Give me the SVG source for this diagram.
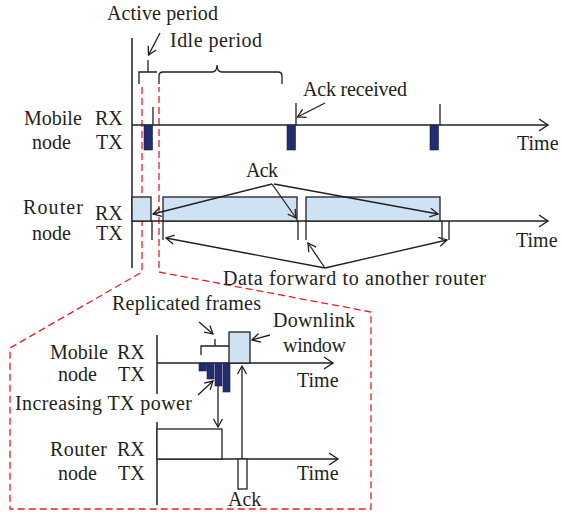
<svg xmlns="http://www.w3.org/2000/svg" width="562" height="514" viewBox="0 0 562 514">
  <defs>
    <marker id="arr" markerUnits="userSpaceOnUse" markerWidth="14" markerHeight="14" refX="0" refY="0" viewBox="-10 -7 12 14" orient="auto" overflow="visible">
      <path d="M-8,-4.5 L0,0 L-8,4.5" fill="none" stroke="#231f20" stroke-width="1.3"/>
    </marker>
    <marker id="axarr" markerUnits="userSpaceOnUse" markerWidth="16" markerHeight="16" refX="0" refY="0" viewBox="-12 -8 14 16" orient="auto" overflow="visible">
      <path d="M-9,-6 L0,0 L-9,6" fill="none" stroke="#231f20" stroke-width="1.4"/>
    </marker>
  </defs>
  <style>
    text { font-family: "Liberation Serif", "Times New Roman", serif; font-size: 20px; fill: #231f20; }
    .ln { fill: none; stroke: #231f20; stroke-width: 1.3; }
    .ax { fill: none; stroke: #231f20; stroke-width: 1.5; }
    .axa { fill: none; stroke: #231f20; stroke-width: 1.5; marker-end: url(#axarr); }
    .ar { fill: none; stroke: #231f20; stroke-width: 1.3; marker-end: url(#arr); }
    .tx { fill: #232c6c; stroke: #1a2158; stroke-width: 0.6; }
    .rx { fill: #cfe2f3; stroke: #231f20; stroke-width: 1.3; }
    .wb { fill: #ffffff; stroke: #231f20; stroke-width: 1.3; }
    .zoom { fill: none; stroke: #ee1c25; stroke-width: 1.3; stroke-dasharray: 7 4; }
  </style>

  <!-- zoom-in outline (red dashed) -->
  <g id="zoom-outline">
    <path class="zoom" d="M142 87 V272 L10 348 V509 H371 V312 L159 272 V87"/>
  </g>

  <!-- ===== Upper timeline ===== -->
  <g id="axes-top">
    <line class="ax" x1="132" y1="38" x2="132" y2="268"/>
    <line class="axa" x1="132" y1="125" x2="548" y2="125"/>
    <line class="axa" x1="132" y1="221" x2="548" y2="221"/>
  </g>

  <g id="labels-top">
    <text x="24" y="125">Mobile</text>
    <text x="95" y="125">RX</text>
    <text x="32" y="149">node</text>
    <text x="96" y="149">TX</text>
    <text x="23" y="214" textLength="60">Router</text>
    <text x="95" y="220">RX</text>
    <text x="32" y="240">node</text>
    <text x="96" y="240">TX</text>
    <text x="517" y="150">Time</text>
    <text x="516" y="247">Time</text>
  </g>

  <g id="periods">
    <text x="107" y="20" textLength="111">Active period</text>
    <text x="170" y="47" textLength="92">Idle period</text>
    <!-- active period bracket -->
    <path class="ln" d="M139 84 V72 H157 M148 72 V60"/>
    <!-- idle period brace -->
    <path class="ln" d="M159 84 V76 Q159 72 163 72 H212 Q217 72 217 65 Q217 72 222 72 H278 Q282 72 282 76 V84"/>
  </g>

  <g id="mobile-node">
    <rect class="tx" x="144" y="125" width="8.5" height="25"/>
    <rect class="tx" x="287" y="125" width="8.5" height="25"/>
    <rect class="tx" x="430" y="125" width="8.5" height="25"/>
    <line class="ln" x1="153" y1="107" x2="153" y2="125"/>
    <line class="ln" x1="296" y1="103" x2="296" y2="125"/>
    <line class="ln" x1="440" y1="104" x2="440" y2="125"/>
    <text x="303" y="96" textLength="104">Ack received</text>
  </g>

  <g id="router-node">
    <rect class="rx" x="132" y="197" width="19" height="24"/>
    <rect class="rx" x="163" y="197" width="134" height="24"/>
    <rect class="rx" x="306" y="197" width="134" height="24"/>
    <path class="ln" d="M152 221 V240 M163 221 V240 M298 221 V240 M306 221 V240 M442 221 V240 M449 221 V240"/>
    <text x="246" y="177" textLength="32">Ack</text>
    <text x="223" y="285" textLength="263">Data forward to another router</text>
  </g>

  <!-- ===== Zoomed view ===== -->
  <g id="axes-zoom">
    <line class="ax" x1="157" y1="335" x2="157" y2="394"/>
    <line class="ax" x1="157" y1="422" x2="157" y2="505"/>
    <line class="axa" x1="157" y1="363" x2="333" y2="363"/>
    <line class="axa" x1="157" y1="459" x2="338" y2="459"/>
  </g>

  <g id="labels-zoom">
    <text x="50" y="359">Mobile</text>
    <text x="117" y="359">RX</text>
    <text x="58" y="381">node</text>
    <text x="118" y="381">TX</text>
    <text x="50" y="456" textLength="57">Router</text>
    <text x="117" y="456">RX</text>
    <text x="58" y="480">node</text>
    <text x="118" y="480">TX</text>
    <text x="297" y="387">Time</text>
    <text x="297" y="480">Time</text>
  </g>

  <g id="mobile-zoom">
    <rect class="tx" x="199" y="363" width="7.5" height="8"/>
    <rect class="tx" x="207" y="363" width="7" height="16"/>
    <rect class="tx" x="215" y="363" width="7" height="23"/>
    <rect class="tx" x="223" y="363" width="7" height="29"/>
    <rect class="rx" x="229" y="332" width="21" height="31"/>
    <!-- replicated frames brace -->
    <path class="ln" d="M201 355 V346 H229 M215 346 V339"/>
    <text x="112" y="310" textLength="149">Replicated frames</text>
    <text x="273" y="327" textLength="82">Downlink</text>
    <text x="283" y="352" textLength="63">window</text>
    <text x="15" y="410" textLength="177">Increasing TX power</text>
  </g>

  <g id="router-zoom">
    <rect class="wb" x="157" y="429" width="65" height="30"/>
    <rect class="wb" x="238" y="459" width="9" height="30"/>
    <text x="228" y="506">Ack</text>
  </g>

  <!-- connectors -->
  <g id="connectors">
    <line class="ar" x1="160" y1="33" x2="148.5" y2="55"/>
    <line class="ar" x1="325" y1="103" x2="297.5" y2="117"/>
    <line class="ar" x1="272" y1="184" x2="153" y2="214"/>
    <line class="ar" x1="272" y1="184" x2="296" y2="218"/>
    <line class="ar" x1="274" y1="184" x2="438" y2="214"/>
    <line class="ar" x1="325" y1="268" x2="166" y2="238"/>
    <line class="ar" x1="325" y1="268" x2="308" y2="243"/>
    <line class="ar" x1="325" y1="268" x2="447" y2="240"/>
    <line class="ar" x1="199" y1="322" x2="213" y2="334"/>
    <line class="ar" x1="270" y1="335" x2="252" y2="340"/>
    <line class="ar" x1="198" y1="395" x2="213" y2="381"/>
    <line class="ar" x1="218" y1="386" x2="218" y2="427"/>
    <line class="ar" x1="242" y1="459" x2="242" y2="366"/>
  </g>
</svg>
